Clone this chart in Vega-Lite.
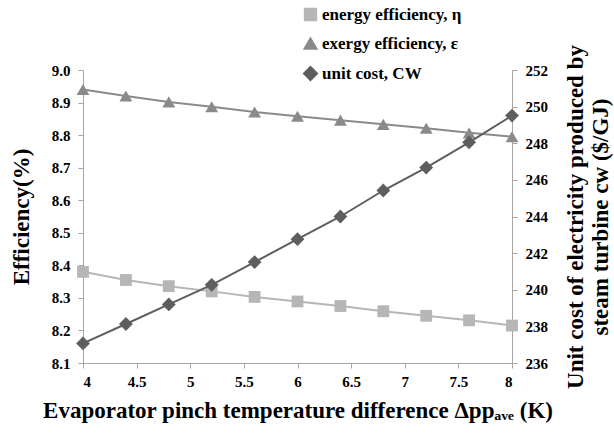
{
  "$schema": "https://vega.github.io/schema/vega-lite/v6.json",
  "width": 429,
  "height": 293,
  "autosize": {"type": "none"},
  "padding": {"left": 83, "top": 70, "right": 102, "bottom": 71},
  "background": "white",
  "config": {
    "view": {"stroke": null},
    "font": "Liberation Serif",
    "axis": {
      "grid": false,
      "domainColor": "#a6a6a6",
      "tickColor": "#a6a6a6",
      "tickSize": 5,
      "labelFont": "Liberation Serif",
      "labelFontWeight": "bold",
      "labelFontSize": 15,
      "labelColor": "black",
      "titleFont": "Liberation Serif",
      "titleFontWeight": "bold",
      "titleFontSize": 23,
      "titleColor": "black"
    }
  },
  "datasets": {
    "eff": [
      {"dp": 4.0, "series": "energy efficiency, η", "value": 8.38},
      {"dp": 4.4, "series": "energy efficiency, η", "value": 8.355},
      {"dp": 4.8, "series": "energy efficiency, η", "value": 8.336},
      {"dp": 5.2, "series": "energy efficiency, η", "value": 8.32},
      {"dp": 5.6, "series": "energy efficiency, η", "value": 8.303},
      {"dp": 6.0, "series": "energy efficiency, η", "value": 8.289},
      {"dp": 6.4, "series": "energy efficiency, η", "value": 8.275},
      {"dp": 6.8, "series": "energy efficiency, η", "value": 8.259},
      {"dp": 7.2, "series": "energy efficiency, η", "value": 8.245},
      {"dp": 7.6, "series": "energy efficiency, η", "value": 8.231},
      {"dp": 8.0, "series": "energy efficiency, η", "value": 8.215},
      {"dp": 4.0, "series": "exergy efficiency, ε", "value": 8.94},
      {"dp": 4.4, "series": "exergy efficiency, ε", "value": 8.92},
      {"dp": 4.8, "series": "exergy efficiency, ε", "value": 8.902},
      {"dp": 5.2, "series": "exergy efficiency, ε", "value": 8.887},
      {"dp": 5.6, "series": "exergy efficiency, ε", "value": 8.871},
      {"dp": 6.0, "series": "exergy efficiency, ε", "value": 8.858},
      {"dp": 6.4, "series": "exergy efficiency, ε", "value": 8.846},
      {"dp": 6.8, "series": "exergy efficiency, ε", "value": 8.833},
      {"dp": 7.2, "series": "exergy efficiency, ε", "value": 8.821},
      {"dp": 7.6, "series": "exergy efficiency, ε", "value": 8.807},
      {"dp": 8.0, "series": "exergy efficiency, ε", "value": 8.795}
    ],
    "cost": [
      {"dp": 4.0, "series": "unit cost, CW", "cost": 237.07},
      {"dp": 4.4, "series": "unit cost, CW", "cost": 238.13},
      {"dp": 4.8, "series": "unit cost, CW", "cost": 239.2},
      {"dp": 5.2, "series": "unit cost, CW", "cost": 240.27},
      {"dp": 5.6, "series": "unit cost, CW", "cost": 241.51},
      {"dp": 6.0, "series": "unit cost, CW", "cost": 242.76},
      {"dp": 6.4, "series": "unit cost, CW", "cost": 244.0},
      {"dp": 6.8, "series": "unit cost, CW", "cost": 245.42},
      {"dp": 7.2, "series": "unit cost, CW", "cost": 246.67},
      {"dp": 7.6, "series": "unit cost, CW", "cost": 248.05},
      {"dp": 8.0, "series": "unit cost, CW", "cost": 249.51}
    ]
  },
  "layer": [
    {
      "data": {"name": "eff"},
      "encoding": {
        "x": {
          "field": "dp",
          "type": "quantitative",
          "scale": {"domain": [4, 8], "nice": false, "zero": false},
          "axis": {
            "values": [4, 4.5, 5, 5.5, 6, 6.5, 7, 7.5, 8],
            "format": "~g",
            "labelPadding": 6,
            "titlePadding": 10,
            "title": "Evaporator pinch temperature difference Δppₐᵥₑ (K)"
          }
        },
        "y": {
          "field": "value",
          "type": "quantitative",
          "scale": {"domain": [8.1, 9.0], "nice": false, "zero": false},
          "axis": {
            "values": [8.1, 8.2, 8.3, 8.4, 8.5, 8.6, 8.7, 8.8, 8.9, 9.0],
            "format": ".1f",
            "labelPadding": 8,
            "titlePadding": 18,
            "title": "Efficiency(%)"
          }
        }
      },
      "layer": [
        {
          "mark": {"type": "line", "strokeWidth": 2},
          "encoding": {
            "color": {
              "field": "series",
              "type": "nominal",
              "scale": {
                "domain": ["energy efficiency, η", "exergy efficiency, ε", "unit cost, CW"],
                "range": ["#b6b6b6", "#8a8a8a", "#5e5e5e"]
              },
              "legend": {
                "title": null,
                "orient": "none",
                "legendX": 219,
                "legendY": -64,
                "padding": 0,
                "labelFont": "Liberation Serif",
                "labelFontWeight": "bold",
                "labelFontSize": 17,
                "labelColor": "black",
                "labelOffset": 3,
                "symbolSize": 324,
                "rowPadding": 10
              }
            }
          }
        },
        {
          "mark": {"type": "point", "filled": true, "opacity": 1},
          "encoding": {
            "color": {"field": "series", "type": "nominal", "legend": null},
            "shape": {
              "field": "series",
              "type": "nominal",
              "scale": {
                "domain": ["energy efficiency, η", "exergy efficiency, ε", "unit cost, CW"],
                "range": ["square", "triangle-up", "diamond"]
              },
              "legend": null
            },
            "size": {
              "field": "series",
              "type": "ordinal",
              "scale": {
                "domain": ["energy efficiency, η", "exergy efficiency, ε", "unit cost, CW"],
                "range": [140, 190, 140]
              },
              "legend": null
            }
          }
        }
      ]
    },
    {
      "data": {"name": "cost"},
      "encoding": {
        "x": {"field": "dp", "type": "quantitative"},
        "y": {
          "field": "cost",
          "type": "quantitative",
          "scale": {"domain": [236, 252], "nice": false, "zero": false},
          "axis": {
            "orient": "right",
            "values": [236, 238, 240, 242, 244, 246, 248, 250, 252],
            "labelPadding": 8,
            "titlePadding": 15,
            "titleAngle": 270,
            "title": ["Unit cost of electricity produced by", "steam turbine cw ($/GJ)"]
          }
        }
      },
      "layer": [
        {
          "mark": {"type": "line", "strokeWidth": 2},
          "encoding": {"color": {"field": "series", "type": "nominal"}}
        },
        {
          "mark": {"type": "point", "filled": true, "opacity": 1},
          "encoding": {
            "color": {"field": "series", "type": "nominal", "legend": null},
            "shape": {"field": "series", "type": "nominal", "legend": null},
            "size": {"field": "series", "type": "ordinal", "legend": null}
          }
        }
      ]
    }
  ],
  "resolve": {"scale": {"y": "independent"}}
}
